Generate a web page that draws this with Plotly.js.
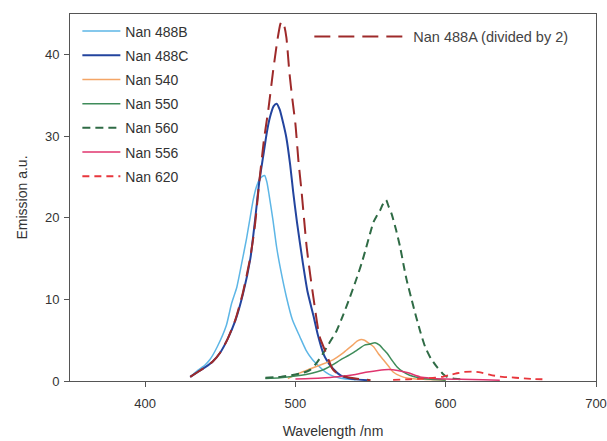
<!DOCTYPE html>
<html>
<head>
<meta charset="utf-8">
<script src="https://cdn.plot.ly/plotly-3.0.1.min.js"></script>
<style>html,body{margin:0;padding:0;background:#fff;}#chart{width:607px;height:441px;}</style>
</head>
<body>
<div id="chart"></div>
<script>
// ---- data (wavelength nm, emission a.u.) ----
const names = ["Nan 488B", "Nan 488C", "Nan 540", "Nan 550", "Nan 560", "Nan 556", "Nan 620", "Nan 488A (divided by 2)"];

const x488B = [430,435,440,443,448,454,457.5,461,464,467.5,470,472,474,476,478,479.5,481,482.5,485,487.5,490,494,498,503,507,511,516,520,525,530,540];
const y488B = [0.5,1.3,2.0,2.6,4.2,6.8,9.5,11.5,14.2,17.5,20.2,22.3,23.8,24.7,25.1,25.2,24.4,22.8,19.8,16.4,13.8,10.3,7.5,5.4,3.8,2.7,1.75,1.1,0.6,0.35,0.15];

const x488C = [430,435,440,445,450,455,460,465,470,473,476,478.5,481,483,485.5,487.5,489.5,492,494,496.5,498.5,501,505,508,512,515,518.5,521,525,530,535,540,548];
const y488C = [0.5,1.1,1.7,2.4,3.5,5.2,7.4,10.6,15.0,19.5,24.5,27.5,30.5,32.3,33.7,34.0,33.3,31.5,29.8,26.5,23.2,19.5,14.4,11.0,8.0,5.6,3.4,2.5,1.5,0.7,0.35,0.2,0.1];

const x540 = [495,503,510,517,525,530,534,538,541,543.7,546,549,552,555,558.5,562,565,570,575,585,600];
const y540 = [0.3,1.0,1.5,2.0,2.6,3.2,3.8,4.4,4.9,5.1,5.0,4.6,4.2,3.4,2.6,1.8,1.1,0.6,0.35,0.2,0.1];

const x550 = [480,490,500,507,514,520,525,530,536,541,546,549,553,556,558.5,561,564,567.5,571,576,582,590,600];
const y550 = [0.3,0.4,0.6,0.8,1.1,1.5,2.0,2.6,3.2,3.8,4.4,4.5,4.7,4.4,3.9,3.4,2.6,1.75,1.2,0.7,0.4,0.2,0.1];

const x560 = [480,490,500,505,510,514,518.5,523,527.5,532,536.3,540,544,547,549.7,552,554,556.3,558,560.3,562,564,567,569.7,572,574,577,579.7,583,586.3,590,594,598,601,605,610];
const y560 = [0.4,0.5,0.8,1.0,1.4,2.2,3.4,4.8,6.2,8.2,10.3,12.2,14.4,16.3,18.1,19.5,20.2,20.9,21.6,22.2,21.4,20.5,18.5,16.4,14.2,12.4,10.2,8.3,6.1,4.2,2.8,1.75,0.9,0.5,0.3,0.2];

const x556 = [500,510,520,530,540,548,555,562,568,575,583,590,600,610,625,636];
const y556 = [0.25,0.3,0.4,0.55,0.8,1.1,1.3,1.4,1.3,1.0,0.5,0.35,0.25,0.2,0.15,0.1];

const x620 = [565,575,585,593,598.5,603,607.5,612,617.5,623,629.7,636,643,650,658.5,667];
const y620 = [0.15,0.2,0.3,0.4,0.55,0.75,0.95,1.1,1.15,1.05,0.75,0.55,0.45,0.35,0.25,0.2];

const x488A = [430,435,440,445,450,455,460,465,470,473,476,479,482,485,488,490,491,492.5,494,496,498,500,502,504,507.5,510,512,516,520,525,530,540,550];
const y488A = [0.5,1.1,1.7,2.4,3.5,5.2,7.5,10.8,15.2,19.0,24.5,29.5,33.3,37.8,41.8,43.8,44.1,43.6,42.1,37.8,34.5,31.5,27.0,23.4,16.4,12.8,10.2,5.5,3.6,1.4,0.7,0.3,0.1];

const xTicks = [400, 500, 600, 700];
const yTicks = [0, 10, 20, 30, 40];

// ---- traces ----
const series = [
  {x: x488B, y: y488B, color: "#5db6e6", dash: "solid", w: 1.5, legend: "legend"},
  {x: x488C, y: y488C, color: "#23449e", dash: "solid", w: 2, legend: "legend"},
  {x: x540, y: y540, color: "#f4a566", dash: "solid", w: 1.5, legend: "legend"},
  {x: x550, y: y550, color: "#3f8c5a", dash: "solid", w: 1.5, legend: "legend"},
  {x: x560, y: y560, color: "#2f6b45", dash: "8px,5px", w: 2, legend: "legend"},
  {x: x556, y: y556, color: "#e0356e", dash: "solid", w: 1.5, legend: "legend"},
  {x: x620, y: y620, color: "#e8363c", dash: "7px,5px", w: 1.8, legend: "legend"},
  {x: x488A, y: y488A, color: "#9e2a2a", dash: "16px,8px", w: 2, legend: "legend2"}
];

const traces = series.map((s, i) => ({
  type: "scatter",
  mode: "lines",
  x: s.x,
  y: s.y,
  name: names[i],
  legendgroup: "g" + i,
  legend: s.legend,
  line: {color: s.color, width: s.w, dash: s.dash, shape: "spline", smoothing: 0.6}
}));

const fontFam = "Liberation Sans, Arial, sans-serif";

const layout = {
  width: 607,
  height: 441,
  margin: {l: 70, r: 11, t: 14, b: 60},
  paper_bgcolor: "#ffffff",
  plot_bgcolor: "#ffffff",
  font: {family: fontFam, color: "#333333", size: 13},
  showlegend: true,
  xaxis: {
    range: [350, 700],
    tickvals: xTicks,
    ticktext: xTicks.map(String),
    ticks: "outside",
    ticklen: 5,
    tickcolor: "#555",
    ticklabelstandoff: 5,
    showline: true,
    mirror: true,
    linecolor: "#555",
    linewidth: 1,
    showgrid: false,
    zeroline: false,
    tickfont: {size: 13, color: "#333"},
    title: {text: "Wavelength /nm", font: {size: 14, color: "#333"}, standoff: 16}
  },
  yaxis: {
    range: [0, 45],
    tickvals: yTicks,
    ticktext: yTicks.map(String),
    ticks: "outside",
    ticklen: 5,
    tickcolor: "#555",
    ticklabelstandoff: 2,
    showline: true,
    mirror: true,
    linecolor: "#555",
    linewidth: 1,
    showgrid: false,
    zeroline: false,
    tickfont: {size: 13, color: "#333"},
    title: {text: "Emission a.u.", font: {size: 14, color: "#333"}, standoff: 14}
  },
  legend: {
    x: 0.014, y: 0.996, xanchor: "left", yanchor: "top",
    bgcolor: "rgba(0,0,0,0)",
    font: {size: 14, color: "#333", family: fontFam},
    itemwidth: 38,
    tracegroupgap: 3,
    traceorder: "grouped"
  },
  legend2: {
    x: 0.455, y: 0.982, xanchor: "left", yanchor: "top",
    bgcolor: "rgba(0,0,0,0)",
    itemwidth: 94,
    font: {size: 14.5, color: "#444", family: fontFam}
  }
};

Plotly.newPlot("chart", traces, layout, {displayModeBar: false, staticPlot: true});
</script>
</body>
</html>
